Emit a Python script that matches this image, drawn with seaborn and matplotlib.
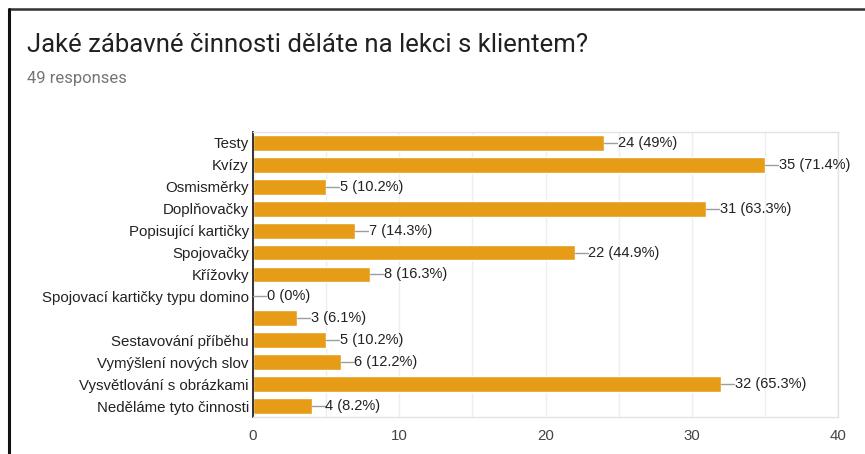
import matplotlib
matplotlib.use("Agg")
import matplotlib.pyplot as plt
import seaborn as sns
import pandas as pd
from matplotlib.lines import Line2D

# Survey answers and counts
categories = [
    "Testy",
    "Kvízy",
    "Osmisměrky",
    "Doplňovačky",
    "Popisující kartičky",
    "Spojovačky",
    "Křížovky",
    "Spojovací kartičky typu domino",
    "",
    "Sestavování příběhu",
    "Vymýšlení nových slov",
    "Vysvětlování s obrázkami",
    "Neděláme tyto činnosti",
]
counts = [24, 35, 5, 31, 7, 22, 8, 0, 3, 5, 6, 32, 4]
total_responses = 49
x_ticks = [0, 10, 20, 30, 40]

title = "Jaké zábavné činnosti děláte na lekci s klientem?"
subtitle = f"{total_responses} responses"

bar_color = "#e69c17"

df = pd.DataFrame({"answer": categories, "count": counts})

sns.set_theme(style="white")
plt.rcParams["font.family"] = ["Liberation Sans", "DejaVu Sans"]

fig = plt.figure(figsize=(8.65, 4.54), dpi=100)
ax = fig.add_axes([0.2925, 0.0815, 0.6763, 0.6278])

sns.barplot(data=df, x="count", y="answer", order=categories,
            color=bar_color, saturation=1, width=0.72, ax=ax)

ax.set_xlim(0, 40)
ax.set_ylim(12.5, -0.5)
ax.set_xticks(x_ticks)
ax.set_xticks(range(5, 40, 10), minor=True)
ax.grid(True, axis="x", which="both", color="#eeeeee", linewidth=1)
ax.set_axisbelow(True)
ax.set_xlabel("")
ax.set_ylabel("")
ax.tick_params(axis="x", which="both", length=0, pad=9, labelsize=10.8, labelcolor="#444444")
ax.tick_params(axis="y", length=0, pad=3, labelsize=10.8, labelcolor="#222222")

for side in ("top", "right", "bottom"):
    ax.spines[side].set_color("#e2e2e2")
    ax.spines[side].set_linewidth(1)
ax.spines["left"].set_color("#333333")
ax.spines["left"].set_linewidth(1.4)

# Value labels with short leader lines
px_per_unit = 585 / 40
lead = 13 / px_per_unit
for i, (c, n) in enumerate(zip(categories, counts)):
    pct = round(n / total_responses * 100, 1)
    label = f"{n} ({pct:g}%)"
    ax.plot([n, n + lead], [i, i], color="#9e9e9e", linewidth=1, clip_on=False, zorder=3)
    ax.text(n + lead + 0.05, i, label, va="center", ha="left", fontsize=10.5,
            color="#222222", clip_on=False)

fig.text(27 / 865, 1 - 45 / 454, title, fontsize=18.5, family="Roboto",
         color="#212121", va="center", ha="left")
fig.text(27 / 865, 1 - 79 / 454, subtitle, fontsize=12, family="Roboto",
         color="#757575", va="center", ha="left")

# Card border along the top and left edges
fig.add_artist(Line2D([9 / 865, 1], [1 - 9 / 454, 1 - 9 / 454],
                      transform=fig.transFigure, color="#333333", linewidth=1.8))
fig.add_artist(Line2D([9 / 865, 9 / 865], [0, 1 - 9 / 454],
                      transform=fig.transFigure, color="#111111", linewidth=2.2))

fig.savefig("out.png", dpi=100)
